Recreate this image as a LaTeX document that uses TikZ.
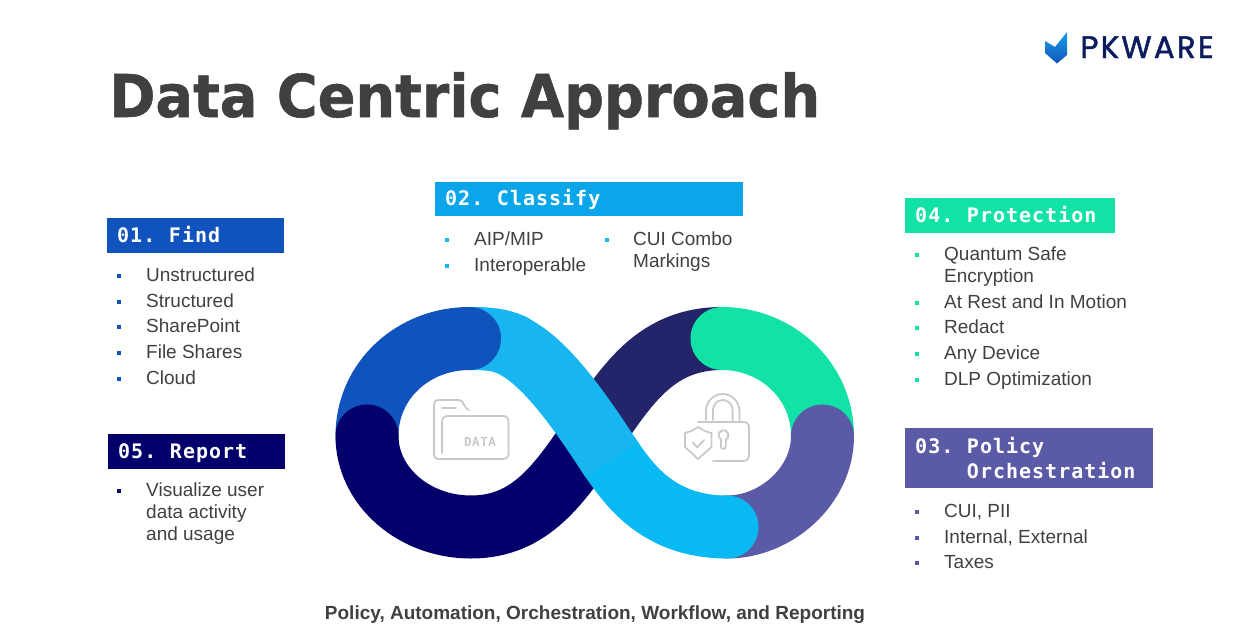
\documentclass[tikz,border=0pt]{standalone}
\usepackage{fontspec}
\setmainfont{Liberation Sans}
\newfontfamily\headfont[LetterSpace=5]{DejaVu Sans Mono}
\newfontfamily\titlefont[BoldFeatures={FakeBold=1}]{DejaVu Sans}
\newfontfamily\logofont[LetterSpace=7,FakeBold=1.5]{Poppins}
\newcommand{\headgap}{\kern7pt\ }
\usetikzlibrary{positioning}
\definecolor{findblue}{HTML}{1053BD}
\definecolor{classblue}{HTML}{0BA6E9}
\definecolor{skyup}{HTML}{18B6F0}
\definecolor{skylow}{HTML}{09B9F1}
\definecolor{reportnavy}{HTML}{03006C}
\definecolor{darkband}{HTML}{24246A}
\definecolor{protgreen}{HTML}{12E2A5}
\definecolor{policyviolet}{HTML}{5A5AA6}
\definecolor{bodygray}{HTML}{404040}
\definecolor{icongray}{HTML}{C9C9C9}
\definecolor{logonavy}{HTML}{0C1C5E}
\tikzset{
  headbox/.style={fill=#1, text=white, anchor=north west, inner xsep=10pt, inner ysep=0pt,
    align=left, font=\headfont\bfseries\fontsize{20}{25}\selectfont},
  oneline/.style={text height=14pt, text depth=1pt},
  itemtext/.style={anchor=base west, inner sep=0pt, text=bodygray, font=\fontsize{19}{22}\selectfont},
  dot/.style={fill=#1, inner sep=0pt, minimum size=4.5pt},
  band/.style={line width=63pt, draw=#1},
  icon/.style={draw=icongray, line width=1.8pt, line cap=round, line join=round}
}
\begin{document}
\begin{tikzpicture}[x=1pt, y=-1pt]
  \useasboundingbox (0,0) rectangle (1240,635);

  % title and logo
  \node[anchor=base west, inner sep=0pt, text=bodygray, font=\titlefont\bfseries\fontsize{59}{70}\selectfont] (title) at (109,117) {\scalebox{0.945}[1]{Data Centric Approach}};
  \node[anchor=base east, inner sep=0pt, text=logonavy, font=\logofont\fontsize{31}{31}\selectfont] (logo) at (1214,58) {PKWARE};
  \path[top color=skyup!80!findblue, bottom color=findblue] (1045,41) -- (1055,47) -- (1067,32) -- (1067,55) -- (1057,63.5) -- (1045,53) -- cycle;

  % infinity bands
  \draw[band=skyup, line cap=round] (471,338.5) .. controls (490,338.5) and (500,340) .. (512,345);
  \draw[band=findblue, line cap=round] (469.5,338.5) .. controls (413.6,338.5) and (367,380) .. (367,436);
  \draw[band=reportnavy, line cap=round] (367,436) .. controls (367,486) and (413.6,527) .. (471,527)
    .. controls (531,527) and (560,483) .. (594,433);
  \draw[band=darkband, line cap=round] (722,338.5) .. controls (657,338.5) and (628,383) .. (594,433);
  \draw[band=protgreen, line cap=round] (722,338.5) .. controls (776,338.5) and (822.5,380) .. (822.5,436);
  \draw[band=policyviolet, line cap=round] (822.5,436) .. controls (822.5,486) and (776,527) .. (727,527);
  \draw[band=skylow, line cap=round] (610,457) .. controls (628,483) and (657,527) .. (727,527);
  \draw[band=skyup] (505,342.5) .. controls (532,352) and (560,383) .. (594,433)
    .. controls (602,445) and (606,451) .. (612,460);

  % folder icon
  \draw[icon] (442,453) -- (442,422) .. controls (442,418) and (444,416) .. (448,416)
    -- (503,416) .. controls (507,416) and (508.5,418) .. (508.5,422) -- (508.5,453)
    .. controls (508.5,457) and (507,459) .. (503,459) -- (439,459)
    .. controls (435,459) and (434,457) .. (434,453) -- (434,405)
    .. controls (434,402) and (435,400) .. (439,400) -- (459,400)
    .. controls (464,400) and (464,409) .. (469,410);
  \draw[icon] (442,408) -- (456,408);
  \node[inner sep=0pt, text=icongray, font=\headfont\bfseries\fontsize{12.5}{14}\selectfont] (data) at (480,442) {DATA};

  % lock icon
  \draw[icon] (706,420) -- (706,411) arc[start angle=180, end angle=360, x radius=16.7, y radius=17] -- (739.4,420);
  \draw[icon] (713,420) -- (713,410) arc[start angle=180, end angle=360, x radius=9.8, y radius=10] -- (732.6,420);
  \draw[icon] (698,422) -- (743,422) .. controls (747,422) and (749,424) .. (749,428) -- (749,455)
    .. controls (749,459) and (747,461) .. (743,461) -- (713,461);
  \draw[icon] (721,439.5) arc[start angle=120, end angle=420, radius=5] -- (725.5,447)
    .. controls (725.5,449.5) and (721,449.5) .. (721,447) -- cycle;
  \draw[icon] (698,427) .. controls (692,431) and (689,432) .. (685,433) -- (685,447) -- (698,459)
    -- (711.5,447) -- (711.5,433) .. controls (707,432) and (704,431) .. (698,427) -- cycle;
  \draw[icon] (692.7,442.3) -- (697.3,447.3) -- (704,440);

  % 01 find
  \node[headbox=findblue, oneline, text width=157pt, minimum height=35pt] (find) at (107,218) {01.\headgap Find};
  \foreach \y/\t [count=\i] in {281/Unstructured, 307/Structured, 332/SharePoint, 358/File Shares, 384/Cloud} {
    \node[dot=findblue] (fd\i) at (119,\y-5) {};
    \node[itemtext] (ft\i) at (146,\y) {\t};
  }

  % 05 report
  \node[headbox=reportnavy, oneline, text width=157pt, minimum height=35pt] (report) at (108,434) {05.\headgap Report};
  \node[dot=reportnavy] (rd) at (119,491) {};
  \foreach \y/\t [count=\i] in {496/Visualize user, 518/data activity, 540/and usage}
    \node[itemtext] (rt\i) at (146,\y) {\t};

  % 02 classify
  \node[headbox=classblue, oneline, text width=288pt, minimum height=34pt] (classify) at (435,182) {02.\headgap Classify};
  \foreach \x/\y/\t [count=\i] in {474/245/AIP\slash MIP, 474/271/Interoperable, 633/245/CUI Combo}
    \node[itemtext] (ct\i) at (\x,\y) {\t};
  \node[itemtext] (ct4) at (633,267) {Markings};
  \node[dot=skyup] (cd1) at (447,240) {};
  \node[dot=skyup] (cd2) at (447,266) {};
  \node[dot=skyup] (cd3) at (607,240) {};

  % 04 protection
  \node[headbox=protgreen, oneline, text width=190pt, minimum height=35pt] (protection) at (905,198) {04.\headgap Protection};
  \foreach \y/\t [count=\i] in {260/Quantum Safe, 308/At Rest and In Motion, 333/Redact, 359/Any Device, 385/DLP Optimization} {
    \node[dot=protgreen] (pd\i) at (917,\y-5) {};
    \node[itemtext] (pt\i) at (944,\y) {\t};
  }
  \node[itemtext] (pt6) at (944,282) {Encryption};

  % 03 policy
  \node[headbox=policyviolet, text width=228pt, minimum height=60pt] (policy) at (905,428) {03.\headgap Policy\\\phantom{03.\headgap}Orchestration};
  \foreach \y/\t [count=\i] in {517/{CUI, PII}, 543/{Internal, External}, 568/Taxes} {
    \node[dot=policyviolet] (od\i) at (917,\y-5) {};
    \node[itemtext] (ot\i) at (944,\y) {\t};
  }

  % footer
  \node[inner sep=0pt, text=bodygray, font=\bfseries\fontsize{19}{22}\selectfont] (footer) at (595,614.5) {Policy, Automation, Orchestration, Workflow, and Reporting};
\end{tikzpicture}
\end{document}
